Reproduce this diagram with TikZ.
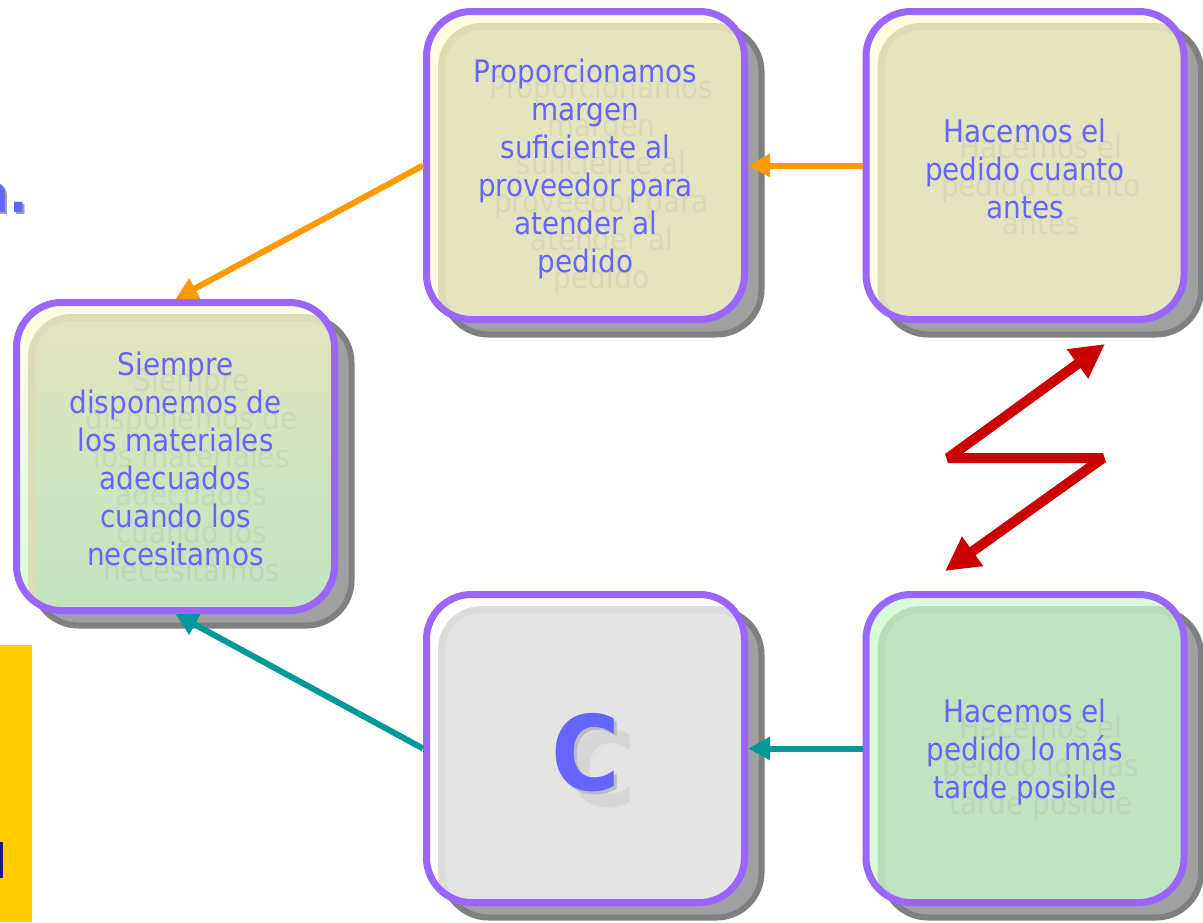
\documentclass[tikz,border=0pt]{standalone}
\usepackage{fontspec}
\setmainfont{DejaVu Sans}[FakeStretch=0.9]
\usetikzlibrary{arrows.meta,shadows,calc}
\definecolor{borde}{HTML}{9966FF}
\definecolor{texto}{HTML}{6666FF}
\definecolor{naranja}{HTML}{FF9900}
\definecolor{verdeazul}{HTML}{009999}
\definecolor{rojo}{HTML}{CC0000}
\definecolor{amarillo}{HTML}{FFCC00}
\definecolor{marino}{HTML}{1A1A80}
\definecolor{sombraosc}{HTML}{808080}
\definecolor{sombracla}{HTML}{A0A0A0}
\definecolor{crema}{HTML}{FFFFE0}
\definecolor{oliva}{HTML}{E4E4BF}
\definecolor{olivaborde}{HTML}{DCDCB6}
\definecolor{menta}{HTML}{D8FCD8}
\definecolor{verde}{HTML}{C0E4C0}
\definecolor{verdeborde}{HTML}{B9DDB9}
\definecolor{gris}{HTML}{E4E4E4}
\definecolor{grisborde}{HTML}{DCDCDC}
\definecolor{grisC}{HTML}{BDBDBD}
\newcommand{\letraC}{\fontsize{104}{104}\selectfont\bfseries\rlap{\kern3pt\raisebox{-3pt}{\color{grisC}C}}C}
\tikzset{
  caja/.style={draw=borde,line width=7pt,rounded corners=45pt,minimum width=318pt,minimum height=308pt,
    inner sep=0pt,outer sep=3.5pt,
    drop shadow={shadow xshift=17pt,shadow yshift=-15pt,opacity=1,fill=sombracla,draw=sombraosc,line width=6pt}},
  interior/.style={path picture={\path[#1,line width=7pt,rounded corners=40pt]
    ($(path picture bounding box.south west)+(15pt,-10pt)$) rectangle ($(path picture bounding box.north east)+(10pt,-15pt)$);}},
  arriba/.style={fill=crema,interior={fill=oliva,draw=olivaborde}},
  lado/.style={top color=crema,bottom color=menta,interior={top color=oliva,bottom color=verde,draw=olivaborde}},
  centro/.style={fill=white,interior={fill=gris,draw=grisborde}},
  abajo/.style={fill=menta,interior={fill=verde,draw=verdeborde}},
  rotulo/.style={inner sep=0pt,align=center,text=texto,font=\fontsize{31}{38}\selectfont},
  eco/.style={rotulo,text=black,text opacity=.05},
  titulo/.style={anchor=base east,inner sep=0pt,text=texto,font=\fontsize{54}{54}\selectfont\bfseries},
  flecha/.style={line width=6pt,-{Triangle[length=22pt,width=22pt]}},
}
\begin{document}
\begin{tikzpicture}[x=1pt,y=1pt,line join=round]
\useasboundingbox (0,0) rectangle (1203,-922);
\clip (0,0) rectangle (1203,-922);
\path
(1105,-344)coordinate(Z1)
(948,-458)coordinate(Z2)
(1103,-458)coordinate(Z3)
(945,-571)coordinate(Z4)
;
% restos de la diapositiva
\fill[amarillo] (0,-645) rectangle (32,-922);
\fill[marino] (0,-842) rectangle (2.5,-878);
\node[titulo,text=sombracla] at (30,-214) {a.};
\node[titulo] (punto) at (28,-212) {a.};
% cajas
\foreach \n/\x/\y/\b/\est/\txt in {
  margen/585.5/-165.5/-3/arriba/{Proporcionamos\\margen\\suficiente al\\proveedor para\\atender al\\pedido},
  antes/1025/-165.5/-3/arriba/{Hacemos el\\pedido cuanto\\antes},
  disponemos/175.5/-456.5/-2/lado/{Siempre\\disponemos de\\los materiales\\adecuados\\cuando los\\necesitamos},
  letra/585.5/-748.5/-6/centro/{\letraC},
  tarde/1025/-748.5/-3/abajo/{Hacemos el\\pedido lo más\\tarde posible}}{
  \node[caja,\est] (\n) at (\x,\y) {};
  \node[eco] at ($(\n)+(16pt,\b pt-16pt)$) {\txt};
  \node[rotulo] (\n-t) at ($(\n)+(0pt,\b pt)$) {\txt};
}
% flechas
\draw[flecha,naranja] (antes.west) -- (margen.east);
\draw[flecha,naranja] (margen.west) -- (disponemos.north);
\draw[flecha,verdeazul] (tarde.west) -- (letra.east);
\draw[flecha,verdeazul] (letra.west) -- (disponemos.south);
\draw[rojo,line width=10pt,line join=bevel,{Triangle[length=34pt,width=34pt]}-{Triangle[length=34pt,width=34pt]}] (Z1)--(Z2)--(Z3)--(Z4);
\end{tikzpicture}
\end{document}
